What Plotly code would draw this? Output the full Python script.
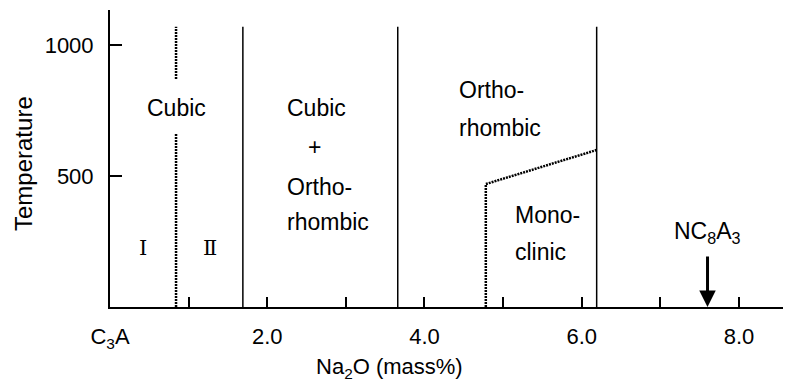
import plotly.graph_objects as go

# ---- data ----
x_tick_vals = [0, 1, 2, 3, 4, 5, 6, 7, 8]
x_tick_text = ["C<sub>3</sub>A", "", "2.0", "", "4.0", "", "6.0", "", "8.0"]
y_tick_vals = [500, 1000]
y_tick_text = ["500", "1000"]

solid_boundaries_x = [1.69, 3.66, 6.19]
boundary_top_T = 1069

cubic_split_x = 0.84
cubic_split_lower_T = [0, 660]
cubic_split_upper_T = [870, 1069]

mono_boundary_x = [4.78, 4.78, 6.19]
mono_boundary_T = [0, 469, 599]

nc8a3_x = 7.6
nc8a3_arrow_T = [198, 0]

# labels: (text, x, T, anchor)
phase_labels = [
    ("Cubic", 0.85, 760, "center"),
    ("Cubic", 2.23, 760, "left"),
    ("+", 2.60, 611, "center"),
    ("Ortho-", 2.23, 458, "left"),
    ("rhombic", 2.23, 324, "left"),
    ("Ortho-", 4.41, 828, "left"),
    ("rhombic", 4.41, 683, "left"),
    ("Mono-", 5.13, 351, "left"),
    ("clinic", 5.13, 210, "left"),
    ("NC<sub>8</sub>A<sub>3</sub>", 7.6, 286, "center"),
]
roman_labels = [("Ⅰ", 0.42, 225), ("Ⅱ", 1.27, 225)]

x_range = [0, 8.56]
y_range = [0, 1133]

FONT = "Arial, Liberation Sans, sans-serif"
FS_TICK = 22
FS_LABEL = 23
INK = "#000000"

fig = go.Figure()

for bx in solid_boundaries_x:
    fig.add_trace(go.Scatter(x=[bx, bx], y=[0, boundary_top_T], mode="lines",
                             line=dict(color=INK, width=1.5), hoverinfo="skip"))

for seg in (cubic_split_lower_T, cubic_split_upper_T):
    fig.add_trace(go.Scatter(x=[cubic_split_x, cubic_split_x], y=seg, mode="lines",
                             line=dict(color=INK, width=2.5, dash="2px,1px"), hoverinfo="skip"))

fig.add_trace(go.Scatter(x=mono_boundary_x, y=mono_boundary_T, mode="lines",
                         line=dict(color=INK, width=2.5, dash="2px,1px"), hoverinfo="skip"))

for text, x, T, anchor in phase_labels:
    fig.add_annotation(x=x, y=T, xref="x", yref="y", text=text, showarrow=False,
                       xanchor=anchor, yanchor="middle",
                       font=dict(family=FONT, size=FS_LABEL, color=INK))

for text, x, T in roman_labels:
    fig.add_annotation(x=x, y=T, xref="x", yref="y", text=text, showarrow=False,
                       xanchor="center", yanchor="middle",
                       font=dict(family="DejaVu Serif, Liberation Serif, serif", size=21, color=INK))

fig.add_annotation(x=nc8a3_x, y=nc8a3_arrow_T[1], ax=nc8a3_x, ay=nc8a3_arrow_T[0],
                   xref="x", yref="y", axref="x", ayref="y", text="",
                   showarrow=True, arrowhead=2, arrowsize=1.1, arrowwidth=3,
                   arrowcolor=INK, standoff=0)

fig.update_layout(
    width=792, height=383,
    margin=dict(l=110, r=9, t=10, b=76),
    paper_bgcolor="white", plot_bgcolor="white",
    showlegend=False,
    font=dict(family=FONT, size=FS_TICK, color=INK),
    xaxis=dict(range=x_range, tickvals=x_tick_vals, ticktext=x_tick_text,
               ticks="inside", ticklen=10, tickwidth=1.5, tickcolor=INK,
               showline=True, linewidth=2, linecolor=INK, showgrid=False,
               zeroline=False, ticklabelstandoff=9, automargin=False,
               tickfont=dict(family=FONT, size=FS_TICK, color=INK),
               title=dict(text="")),
    yaxis=dict(range=y_range, tickvals=y_tick_vals, ticktext=y_tick_text,
               ticks="inside", ticklen=12, tickwidth=1.5, tickcolor=INK,
               showline=True, linewidth=2, linecolor=INK, showgrid=False,
               zeroline=False, ticklabelstandoff=10, automargin=False,
               tickfont=dict(family=FONT, size=FS_TICK, color=INK),
               title=dict(text="")),
)

# axis titles as annotations positioned in pixel-equivalent paper coords
plot_w = 792 - 110 - 9
plot_h = 383 - 10 - 76
fig.add_annotation(x=(389 - 110) / plot_w, y=-(368 - 307) / plot_h, xref="paper", yref="paper",
                   text="Na<sub>2</sub>O (mass%)", showarrow=False,
                   xanchor="center", yanchor="middle",
                   font=dict(family=FONT, size=22, color=INK))
fig.add_annotation(x=-(110 - 23) / plot_w, y=(307 - 163) / plot_h, xref="paper", yref="paper",
                   text="Temperature", showarrow=False, textangle=-90,
                   xanchor="center", yanchor="middle",
                   font=dict(family=FONT, size=24, color=INK))

fig.write_html("out.html")
